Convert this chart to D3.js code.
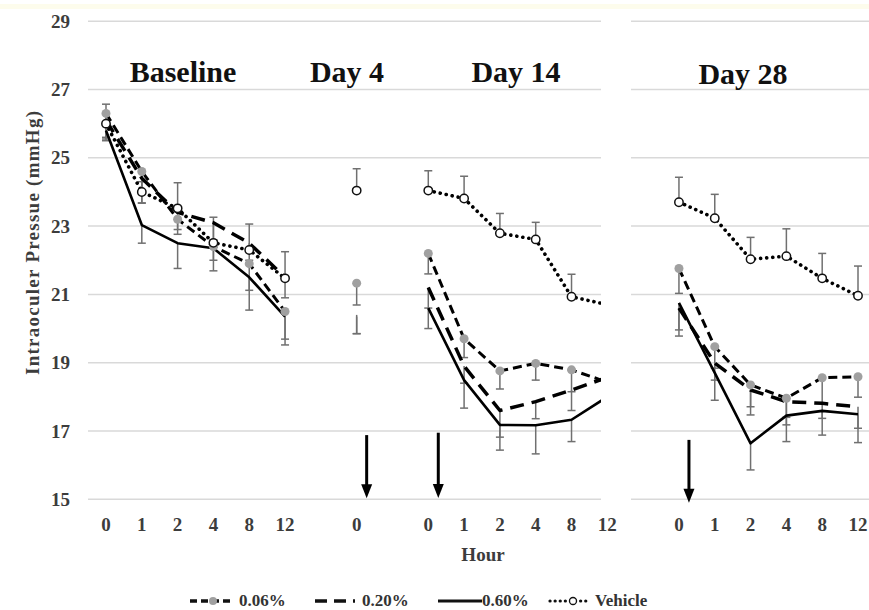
<!DOCTYPE html>
<html><head><meta charset="utf-8">
<script src="https://cdn.jsdelivr.net/npm/d3@7"></script>
<style>html,body{margin:0;padding:0;background:#fff;}svg{display:block;}</style>
</head><body>
<script>
// ---------- data ----------
const slotLabels = ["0","1","2","4","8","12","","0","","0","1","2","4","8","12","","0","1","2","4","8","12"];
const panelTitles = ["Baseline","Day 4","Day 14","Day 28"];
const yTicks = [15,17,19,21,23,25,27,29];
const seriesNames = ["0.06%","0.20%","0.60%","Vehicle"];
const v006 = [26.3,24.6,23.2,22.4,21.9,20.5, null, 21.33, null, 22.2,19.7,18.76,18.98,18.79,18.43, null, 21.76,19.47,18.35,17.96,18.56,18.59];
const e006 = [0.7,0.92,0.44,0.4,0.78,0.81, null, 0.64, null, 0.6,0.55,0.53,0.49,0.64,0.5, null, 0.73,0.63,0.64,0.56,0.74,0.6];
const v020 = [26.1,24.4,23.4,23.1,22.5,21.5, null, 20.4, null, 21.2,18.9,17.6,17.86,18.2,18.57, null, 20.6,18.99,18.2,17.86,17.81,17.71];
const e020 = [0.55,0.73,0.5,0.5,0.5,0.6, null, 0.55, null, 0.6,0.5,0.78,0.5,0.6,0.5, null, 0.64,0.5,0.73,0.68,0.44,0.63];
const v060 = [25.8,23.03,22.5,22.35,21.5,20.35, null, 20.35, null, 20.6,18.49,17.18,17.17,17.33,18.0, null, 20.75,18.7,16.64,17.45,17.59,17.49];
const e060 = [0.3,0.53,0.74,0.66,0.96,0.83, null, 0.5, null, 0.6,0.82,0.74,0.84,0.64,0.5, null, 0.97,0.8,0.78,0.76,0.71,0.83];
const vVeh = [26.0,24.0,23.52,22.51,22.3,21.47, null, 24.04, null, 24.04,23.81,22.79,22.61,20.93,20.7, null, 23.7,23.23,22.03,22.12,21.47,20.96];
const eVeh = [0.57,0.3,0.75,0.75,0.76,0.78, null, 0.64, null, 0.58,0.65,0.58,0.5,0.66,0.6, null, 0.73,0.7,0.64,0.8,0.73,0.87];
const arrowSlots = [7, 9, 16];
const arrowFrom = [16.88, 16.95, 16.74];
const arrowTo = [15.03, 15.04, 14.9];

// ---------- layout ----------
const W = 869, H = 610;
const FONT = "'Liberation Serif','Times New Roman',serif";
const svg = d3.select("body").append("svg").attr("width", W).attr("height", H);
svg.append("rect").attr("width", W).attr("height", H).attr("fill", "#fff");
svg.append("rect").attr("x",0).attr("y",4).attr("width",W).attr("height",5).attr("fill","#fdfcec");

const x = d3.scalePoint().domain(d3.range(slotLabels.length)).range([106, 858]);
const y = d3.scaleLinear().domain([15, 29]).range([499.3, 21.2]);

const panelsX = [[88, 601], [631, 869]];
const defs = svg.append("defs");
panelsX.forEach((p, i) => {
  defs.append("clipPath").attr("id", "clip" + i).append("rect")
    .attr("x", p[0]).attr("y", 0).attr("width", p[1] - p[0]).attr("height", H);
});

// gridlines
panelsX.forEach(p => {
  svg.append("g").selectAll("line").data(yTicks).join("line")
    .attr("x1", p[0]).attr("x2", p[1])
    .attr("y1", d => y(d)).attr("y2", d => y(d))
    .attr("stroke", "#d9d9d9").attr("stroke-width", 1.5);
});

// y tick labels
svg.append("g").selectAll("text").data(yTicks).join("text")
  .attr("x", 70).attr("y", d => y(d) + 6.5)
  .attr("text-anchor", "end")
  .attr("font-family", FONT).attr("font-weight", "bold").attr("font-size", 19)
  .attr("fill", "#3c3c3c").text(d => d);

// x tick labels
svg.append("g").selectAll("text").data(slotLabels.map((l, i) => ({l, i})).filter(d => d.l !== "")).join("text")
  .attr("x", d => x(d.i)).attr("y", 531)
  .attr("text-anchor", "middle")
  .attr("font-family", FONT).attr("font-weight", "bold").attr("font-size", 19)
  .attr("fill", "#3c3c3c").text(d => d.l);

// axis titles
svg.append("text").attr("x", 483).attr("y", 561).attr("text-anchor", "middle")
  .attr("font-family", FONT).attr("font-weight", "bold").attr("font-size", 19)
  .attr("fill", "#3c3c3c").text("Hour");
svg.append("text").attr("transform", "translate(39,243) rotate(-90)")
  .attr("text-anchor", "middle")
  .attr("font-family", FONT).attr("font-weight", "bold").attr("font-size", 19)
  .attr("fill", "#3c3c3c").attr("textLength", 264).attr("lengthAdjust", "spacing")
  .text("Intraoculer  Pressue (mmHg)");

// panel titles
const titleX = [183, 347, 516, 743];
const titleY = [82, 82, 82, 84];
svg.append("g").selectAll("text").data(panelTitles).join("text")
  .attr("x", (d, i) => titleX[i]).attr("y", (d, i) => titleY[i])
  .attr("text-anchor", "middle")
  .attr("font-family", FONT).attr("font-weight", "bold").attr("font-size", 30)
  .attr("fill", "#111").text(d => d);

// series
const series = [
  {name: seriesNames[0], v: v006, e: e006, dir: -1, dash: "9,5", w: 3, marker: "gray"},
  {name: seriesNames[1], v: v020, e: e020, dir: -1, dash: "14,8", w: 3.5, marker: null},
  {name: seriesNames[2], v: v060, e: e060, dir: -1, dash: null, w: 2.6, marker: null},
  {name: seriesNames[3], v: vVeh, e: eVeh, dir: 1, dash: "0.1,6", w: 3.6, marker: "open"}
];

panelsX.forEach((p, pi) => {
  const g = svg.append("g").attr("clip-path", `url(#clip${pi})`);
  const inPanel = i => (pi === 0 ? i <= 14 : i >= 16);
  // error bars
  series.forEach(s => {
    const pts = s.v.map((v, i) => ({v, e: s.e[i], i})).filter(d => d.v != null && inPanel(d.i));
    const eg = g.append("g").attr("stroke", "#707070").attr("stroke-width", 1.5);
    eg.selectAll("line.bar").data(pts).join("line").attr("class", "bar")
      .attr("x1", d => x(d.i)).attr("x2", d => x(d.i))
      .attr("y1", d => y(d.v)).attr("y2", d => y(d.v + s.dir * d.e));
    eg.selectAll("line.cap").data(pts).join("line").attr("class", "cap")
      .attr("x1", d => x(d.i) - 4).attr("x2", d => x(d.i) + 4)
      .attr("y1", d => y(d.v + s.dir * d.e)).attr("y2", d => y(d.v + s.dir * d.e));
  });
  // lines
  series.forEach(s => {
    const line = d3.line().defined(d => d.v != null).x(d => x(d.i)).y(d => y(d.v));
    const pts = s.v.map((v, i) => ({v: inPanel(i) ? v : null, i}));
    g.append("path").datum(pts).attr("d", line)
      .attr("fill", "none").attr("stroke", "#000").attr("stroke-width", s.w)
      .attr("stroke-dasharray", s.dash)
      .attr("stroke-linecap", s.marker === "open" ? "round" : "butt")
      .attr("stroke-linejoin", "round");
  });
  // markers
  series.filter(s => s.marker).forEach(s => {
    const pts = s.v.map((v, i) => ({v, i})).filter(d => d.v != null && inPanel(d.i));
    g.append("g").selectAll("circle").data(pts).join("circle")
      .attr("cx", d => x(d.i)).attr("cy", d => y(d.v))
      .attr("r", s.marker === "open" ? 4.2 : 4.5)
      .attr("fill", s.marker === "open" ? "#fff" : "#a0a0a0")
      .attr("stroke", s.marker === "open" ? "#111" : "none")
      .attr("stroke-width", 1.5);
  });
});

// dose arrows
arrowSlots.forEach((sl, k) => {
  const ax = x(sl) + 10;
  const y0 = y(arrowFrom[k]), y1 = y(arrowTo[k]);
  svg.append("line").attr("x1", ax).attr("x2", ax).attr("y1", y0).attr("y2", y1 - 12)
    .attr("stroke", "#000").attr("stroke-width", 3);
  svg.append("path").attr("d", `M${ax - 5.5},${y1 - 14} L${ax + 5.5},${y1 - 14} L${ax},${y1} Z`)
    .attr("fill", "#000");
});

// legend
const legY = 601;
const legend = [
  {x0: 190, x1: 230, dash: "7,4", w: 3.5, marker: "gray", mx: 213, tx: 239},
  {x0: 315, x1: 355, dash: "12,7", w: 3.5, marker: null, tx: 362},
  {x0: 438, x1: 482, dash: null, w: 3, marker: null, tx: 482},
  {x0: 550, x1: 590, dash: "0.1,5", w: 3.2, marker: "open", mx: 573, tx: 595}
];
legend.forEach((l, i) => {
  svg.append("line").attr("x1", l.x0).attr("x2", l.x1).attr("y1", legY).attr("y2", legY)
    .attr("stroke", "#111").attr("stroke-width", l.w).attr("stroke-dasharray", l.dash)
    .attr("stroke-linecap", l.marker === "open" ? "round" : "butt");
  if (l.marker) {
    svg.append("circle").attr("cx", l.mx).attr("cy", legY).attr("r", l.marker === "open" ? 3.5 : 4)
      .attr("fill", l.marker === "open" ? "#fff" : "#a0a0a0")
      .attr("stroke", l.marker === "open" ? "#111" : "none").attr("stroke-width", 1.3);
  }
  svg.append("text").attr("x", l.tx).attr("y", 606)
    .attr("font-family", FONT).attr("font-weight", "bold").attr("font-size", 17)
    .attr("fill", "#333").text(seriesNames[i]);
});
</script>
</body></html>
